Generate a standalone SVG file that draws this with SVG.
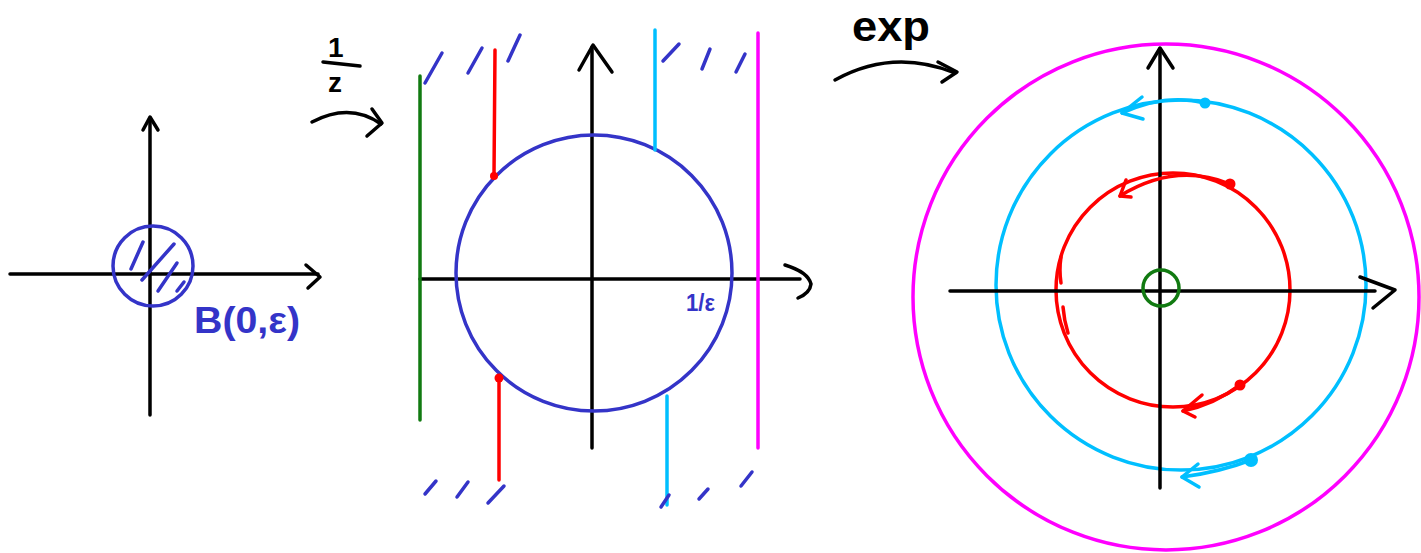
<svg xmlns="http://www.w3.org/2000/svg" width="1421" height="553" viewBox="0 0 1421 553">
<style>
.k{stroke:#000;stroke-width:3.5;fill:none;stroke-linecap:round;stroke-linejoin:round}
.b{stroke:#3434c8;stroke-width:3.5;fill:none;stroke-linecap:round;stroke-linejoin:round}
.g{stroke:#117a11;stroke-width:3.5;fill:none;stroke-linecap:round}
.r{stroke:#ff0000;stroke-width:3.5;fill:none;stroke-linecap:round;stroke-linejoin:round}
.c{stroke:#00bfff;stroke-width:3.5;fill:none;stroke-linecap:round;stroke-linejoin:round}
.m{stroke:#ff00ff;stroke-width:3.5;fill:none;stroke-linecap:round}
.t{font-family:"Liberation Sans","DejaVu Sans",sans-serif;font-weight:bold}
</style>
<rect width="1421" height="553" fill="#fff"/>

<g id="panel-left">
  <line class="k" x1="10" y1="274" x2="318" y2="274"/>
  <polyline class="k" points="306,265 320,277 308,288"/>
  <line class="k" x1="150" y1="118" x2="150" y2="415"/>
  <polyline class="k" points="143,130 150,117 158,130"/>
  <circle class="b" cx="153" cy="266" r="40"/>
  <line class="b" x1="131" y1="269" x2="143" y2="242"/>
  <line class="b" x1="142" y1="280" x2="174" y2="244"/>
  <line class="b" x1="158" y1="291" x2="177" y2="263"/>
  <line class="b" x1="177" y1="291" x2="184" y2="282"/>
  <text class="t" x="194" y="333" font-size="36" fill="#3434c8" textLength="106" lengthAdjust="spacingAndGlyphs">B(0,ε)</text>
</g>

<g id="map-inv">
  <text class="t" x="328" y="57" font-size="28" fill="#000">1</text>
  <line class="k" x1="323" y1="62" x2="360" y2="66"/>
  <text class="t" x="328" y="92" font-size="28" fill="#000">z</text>
  <path class="k" d="M312,122 Q350,102 381,124"/>
  <polyline class="k" points="372,109 382,123 367,136"/>
</g>

<g id="panel-middle">
  <line class="k" x1="420" y1="279" x2="800" y2="279"/>
  <path class="k" d="M785,265 Q808,272 811,284 Q810,293 798,298"/>
  <line class="k" x1="592" y1="448" x2="592" y2="47"/>
  <polyline class="k" points="579,70 593,45 612,72"/>
  <circle class="b" cx="594" cy="273" r="138"/>
  <line class="g" x1="420" y1="76" x2="420" y2="420"/>
  <line class="r" x1="495" y1="50" x2="494" y2="175"/>
  <circle cx="494" cy="176" r="4" fill="#ff0000"/>
  <line class="r" x1="499" y1="378" x2="499" y2="480"/>
  <circle cx="499" cy="378" r="4.5" fill="#ff0000"/>
  <line class="c" x1="655" y1="30" x2="655" y2="150"/>
  <line class="c" x1="667" y1="396" x2="667" y2="505"/>
  <line class="m" x1="758" y1="33" x2="758" y2="448"/>
  <line class="b" x1="425" y1="83" x2="442" y2="53"/>
  <line class="b" x1="468" y1="73" x2="482" y2="48"/>
  <line class="b" x1="508" y1="61" x2="520" y2="35"/>
  <line class="b" x1="663" y1="61" x2="679" y2="44"/>
  <line class="b" x1="702" y1="69" x2="710" y2="49"/>
  <line class="b" x1="736" y1="72" x2="745" y2="54"/>
  <line class="b" x1="425" y1="494" x2="436" y2="481"/>
  <line class="b" x1="457" y1="497" x2="468" y2="482"/>
  <line class="b" x1="488" y1="503" x2="504" y2="486"/>
  <line class="b" x1="661" y1="507" x2="669" y2="495"/>
  <line class="b" x1="699" y1="499" x2="708" y2="489"/>
  <line class="b" x1="741" y1="486" x2="752" y2="472"/>
  <text class="t" x="686" y="311" font-size="23" fill="#3434c8" textLength="29" lengthAdjust="spacingAndGlyphs">1/ε</text>
</g>

<g id="map-exp">
  <text class="t" x="852" y="41" font-size="42" fill="#000" textLength="78" lengthAdjust="spacingAndGlyphs">exp</text>
  <path class="k" d="M835,80 Q893,48 955,73"/>
  <polyline class="k" points="938,62 957,72 942,82"/>
</g>

<g id="panel-right">
  <circle class="m" cx="1166" cy="297" r="253"/>
  <circle class="c" cx="1181" cy="285" r="185"/>
  <circle class="r" cx="1173" cy="290" r="117"/>
  <line class="k" x1="950" y1="291" x2="1375" y2="291"/>
  <polyline class="k" points="1360,277 1395,290 1373,308"/>
  <line class="k" x1="1160" y1="488" x2="1160" y2="50"/>
  <polyline class="k" points="1148,68 1160,48 1173,68"/>
  <circle cx="1161" cy="288" r="18" fill="none" stroke="#117a11" stroke-width="3.5"/>
  <path class="c" d="M1205,103 Q1165,93 1122,113"/>
  <polyline class="c" points="1142,97 1122,113 1143,119"/>
  <circle cx="1205" cy="103" r="5.5" fill="#00bfff"/>
  <path class="r" stroke-width="4.5" d="M1230,184 Q1175,162 1120,196"/>
  <polyline class="r" points="1126,180 1120,196 1131,197"/>
  <circle cx="1230" cy="184" r="5.5" fill="#ff0000"/>
  <path class="r" stroke-width="6" d="M1061,257 Q1059,270 1061,283"/>
  <path class="r" stroke-width="5.5" d="M1063,307 Q1064,320 1068,333"/>
  <path class="r" stroke-width="4.5" d="M1240,385 Q1215,404 1183,411"/>
  <polyline class="r" points="1202,395 1183,411 1195,417"/>
  <circle cx="1240" cy="385" r="5.5" fill="#ff0000"/>
  <path class="c" stroke-width="4" d="M1251,460 Q1220,472 1182,477"/>
  <polyline class="c" points="1198,464 1182,477 1199,487"/>
  <circle cx="1251" cy="460" r="7" fill="#00bfff"/>
</g>
</svg>
